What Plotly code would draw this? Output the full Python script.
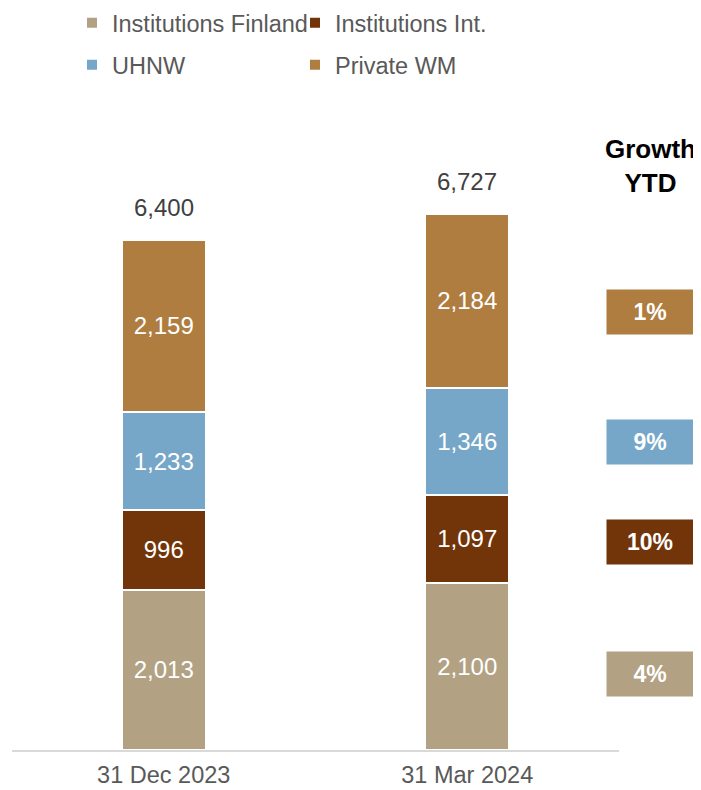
import plotly.graph_objects as go

categories = ["31 Dec 2023", "31 Mar 2024"]
series_names = ["Institutions Finland", "Institutions Int.", "UHNW", "Private WM"]
inst_finland = [2013, 2100]
inst_int = [996, 1097]
uhnw = [1233, 1346]
private_wm = [2159, 2184]
totals = [6400, 6727]
growth_labels = ["4%", "10%", "9%", "1%"]

colors = ["#B2A283", "#713509", "#76A7C8", "#B07D40"]
series_values = [inst_finland, inst_int, uhnw, private_wm]

FONT = "Arial, Liberation Sans, sans-serif"
# page body has an 8px margin; figure sized to fit the window
OFF = 8
W, H = 693, 782
L, R, T, B = 12 - OFF, W - (619 - OFF), 100 - OFF, H - (750 - OFF)
PW, PH = W - L - R, H - T - B
PX_PER_UNIT = 510 / 6400.0
YMAX = PH / PX_PER_UNIT


def px_x(sx):
    return (sx - OFF - L) / PW


def px_y(sy):
    return (H - B - (sy - OFF)) / PH


fig = go.Figure()
legends = ["legend", "legend", "legend2", "legend2"]
for name, vals, col, lg in zip(series_names, series_values, colors, legends):
    fig.add_trace(go.Bar(
        x=[0, 1], y=vals, name=name,
        marker=dict(color=col, line=dict(color="white", width=2)),
        width=0.277,
        text=[f"{v:,}" for v in vals],
        textposition="inside", insidetextanchor="middle",
        textfont=dict(color="white", size=24, family=FONT),
        legend=lg,
    ))

annotations = []
for i, t in enumerate(totals):
    annotations.append(dict(
        x=i, y=t, xref="x", yref="y", text=f"{t:,}", showarrow=False,
        yanchor="bottom", yshift=17, font=dict(size=24, color="#404040", family=FONT)))

annotations.append(dict(
    x=px_x(650), y=px_y(166), xref="paper", yref="paper",
    text="<b>Growth<br>YTD</b>", showarrow=False, align="center",
    xanchor="center", yanchor="middle",
    font=dict(size=26, color="black", family=FONT)))

box_centers_px = [674, 542, 442, 312]
for lab, col, cy in zip(growth_labels, colors, box_centers_px):
    annotations.append(dict(
        x=px_x(650), y=px_y(cy), xref="paper", yref="paper",
        text=f"<b>{lab}</b>", showarrow=False, width=86, height=44,
        bgcolor=col, borderpad=0, valign="middle",
        xanchor="center", yanchor="middle",
        font=dict(size=23, color="white", family=FONT)))

leg_common = dict(orientation="h", xanchor="left", yanchor="middle",
                  entrywidth=178, entrywidthmode="pixels", traceorder="normal",
                  font=dict(size=23.5, color="#595959", family=FONT),
                  bgcolor="rgba(0,0,0,0)", itemclick=False)

fig.update_layout(
    width=W, height=H,
    margin=dict(l=L, r=R, t=T, b=B, autoexpand=False),
    barmode="stack",
    plot_bgcolor="white", paper_bgcolor="white",
    font=dict(family=FONT),
    showlegend=True,
    legend=dict(x=px_x(72), y=px_y(23), **leg_common),
    legend2=dict(x=px_x(72), y=px_y(65), **leg_common),
    xaxis=dict(range=[-0.5, 1.5], tickvals=[0, 1], ticktext=categories,
               showline=True, linecolor="#D9D9D9", linewidth=2,
               showgrid=False, zeroline=False, ticks="", ticklabelstandoff=3,
               tickfont=dict(size=23.5, color="#595959", family=FONT)),
    yaxis=dict(range=[0, YMAX], visible=False, showgrid=False, zeroline=False),
    annotations=annotations,
)

fig.write_html("out.html")
